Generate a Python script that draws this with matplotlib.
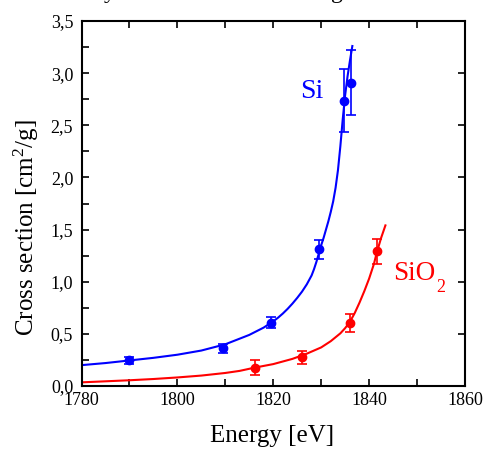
import matplotlib
matplotlib.use("Agg")
import matplotlib.pyplot as plt
from matplotlib.ticker import MultipleLocator, FuncFormatter

plt.rcParams['font.family'] = ['Liberation Serif', 'DejaVu Serif']
plt.rcParams['mathtext.fontset'] = 'custom'
plt.rcParams['mathtext.rm'] = 'Liberation Serif'
plt.rcParams['mathtext.it'] = 'Liberation Serif:italic'

# Measured data points
si_energy = [1790.0, 1809.5, 1819.6, 1829.5, 1834.7, 1836.2]
si_value = [0.245, 0.36, 0.607, 1.31, 2.735, 2.91]
si_err = [0.03, 0.04, 0.05, 0.09, 0.30, 0.31]

sio2_energy = [1816.1, 1826.0, 1836.0, 1841.6]
sio2_value = [0.175, 0.275, 0.607, 1.29]
sio2_err = [0.07, 0.06, 0.085, 0.12]

# Fit curves
si_fit_e = [1780, 1785, 1790, 1795, 1800, 1805, 1810, 1815, 1818, 1820, 1821, 1822,
            1823, 1824, 1825, 1826, 1827, 1828, 1828.5, 1829, 1829.5, 1830, 1830.5,
            1831, 1831.5, 1832, 1832.5, 1833, 1833.5, 1834, 1834.5, 1835, 1835.5,
            1836, 1836.5]
si_fit_v = [0.20, 0.22, 0.245, 0.27, 0.30, 0.34, 0.40, 0.49, 0.56, 0.62, 0.655, 0.695,
            0.74, 0.79, 0.845, 0.905, 0.975, 1.06, 1.12, 1.19, 1.27, 1.35, 1.42,
            1.50, 1.58, 1.67, 1.77, 1.90, 2.07, 2.30, 2.56, 2.79, 2.97,
            3.12, 3.26]

sio2_fit_e = [1780, 1785, 1790, 1795, 1800, 1805, 1810, 1813, 1816, 1820, 1824, 1827,
              1830, 1832, 1834, 1835, 1836, 1837, 1838, 1839, 1840, 1841, 1841.6, 1842.5, 1843.4]
sio2_fit_v = [0.035, 0.045, 0.055, 0.067, 0.082, 0.10, 0.125, 0.145, 0.175, 0.21, 0.26, 0.31,
              0.37, 0.43, 0.505, 0.555, 0.615, 0.70, 0.80, 0.91, 1.03, 1.17, 1.28, 1.42, 1.54]

fig = plt.figure(figsize=(4.86, 4.49), dpi=100)
ax = fig.add_axes([81.5/486, 63/449, (465-81.5)/486, (386-21)/449])

blue = '#0000ff'
red = '#ff0000'

ax.plot(si_fit_e, si_fit_v, color=blue, lw=1.5)
ax.plot(sio2_fit_e, sio2_fit_v, color=red, lw=1.5)
ax.errorbar(si_energy, si_value, yerr=si_err, fmt='o', color=blue, ms=6,
            elinewidth=1.2, capsize=3.5, capthick=1.2)
ax.errorbar(sio2_energy, sio2_value, yerr=sio2_err, fmt='o', color=red, ms=6,
            elinewidth=1.2, capsize=3.5, capthick=1.2)

ax.set_xlim(1780, 1860)
ax.set_ylim(0, 3.5)
ax.xaxis.set_major_locator(MultipleLocator(20))
ax.xaxis.set_minor_locator(MultipleLocator(10))
ax.yaxis.set_major_locator(MultipleLocator(0.5))
ax.yaxis.set_minor_locator(MultipleLocator(0.25))
ax.yaxis.set_major_formatter(FuncFormatter(lambda v, p: f"{v:.1f}".replace('.', ',')))

ax.tick_params(which='both', direction='in', top=True, right=True, labelsize=13,
               width=1.2, length=5)
ax.tick_params(axis='y', which='minor', right=False)
ax.tick_params(axis='x', which='both', pad=4)
ax.tick_params(axis='y', which='both', pad=6)
for s in ax.spines.values():
    s.set_linewidth(1.5)

ax.set_xlabel('Energy [eV]', fontsize=18)
ax.xaxis.set_label_coords(0.498, -0.108)
ax.set_ylabel('Cross section [cm$^2$/g]', fontsize=18)
ax.yaxis.set_label_coords(-0.106, 0.433)

ax.text(1825.7, 2.76, 'Si', color=blue, fontsize=20, va='baseline')
t = ax.text(1845.0, 1.016, 'SiO', color=red, fontsize=19.5, va='baseline')
ax.annotate('2', xy=(1, 0), xycoords=t, xytext=(0.5, -4), textcoords='offset points',
            color=red, fontsize=13, va='baseline', ha='left')

# clipped title remnants at top edge
fig.text(110/486, 1 + 2/449, 'y', fontsize=17, ha='center', va='baseline')
fig.text(337/486, 1 + 2/449, 'g', fontsize=17, ha='center', va='baseline')

fig.savefig('out.png', dpi=100)
